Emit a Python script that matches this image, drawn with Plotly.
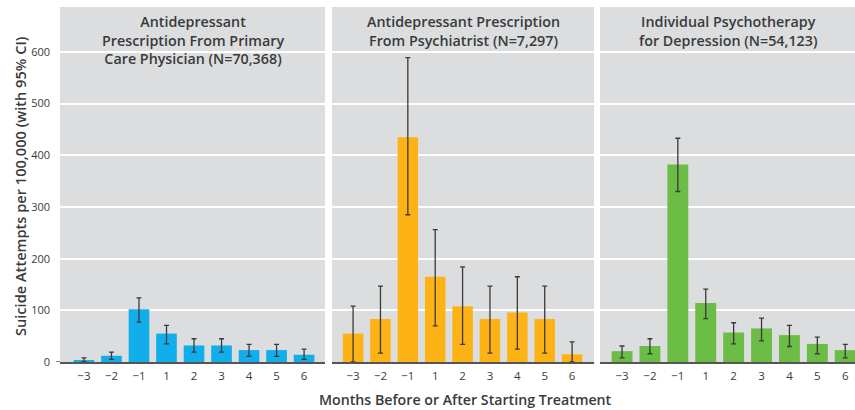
import plotly.graph_objects as go

months = ["\u22123", "\u22122", "\u22121", "1", "2", "3", "4", "5", "6"]

panel_titles = [
    "Antidepressant<br>Prescription From Primary<br>Care Physician (N=70,368)",
    "Antidepressant Prescription<br>From Psychiatrist (N=7,297)",
    "Individual Psychotherapy<br>for Depression (N=54,123)",
]

pcp_rate = [3, 12, 102, 55, 32, 32, 23, 23, 14]
pcp_low = [0.5, 5, 77, 35, 19, 19, 11, 11, 5]
pcp_high = [8, 19, 124, 71, 45, 45, 34, 34, 25]

psy_rate = [55, 83, 435, 165, 108, 83, 96, 83, 15]
psy_low = [0, 17, 285, 70, 34, 17, 25, 17, 0]
psy_high = [108, 147, 589, 256, 184, 147, 165, 147, 39]

thr_rate = [21, 31, 382, 114, 57, 65, 52, 35, 23]
thr_low = [8, 16, 330, 84, 35, 41, 30, 16, 8]
thr_high = [31, 45, 433, 141, 76, 85, 71, 48, 34]

y_ticks = [0, 100, 200, 300, 400, 500, 600]

series = [
    (pcp_rate, pcp_low, pcp_high, "#12ADEB"),
    (psy_rate, psy_low, psy_high, "#FDB316"),
    (thr_rate, thr_low, thr_high, "#6CBD45"),
]

FONT = "Open Sans"
TXT = "#3a3a3a"
W, H = 855, 410
L, R, T, B = 60, 0, 7, 48
pw = W - L - R
ph = H - T - B
domains = [
    [0, (325 - L) / pw],
    [(332 - L) / pw, (594 - L) / pw],
    [(600 - L) / pw, 1.0],
]
xranges = [[-0.87, 8.76], [-0.77, 8.8], [-0.79, 8.35]]
YMAX = 687

fig = go.Figure()
xs = list(range(len(months)))
for i, (rate, lo, hi, col) in enumerate(series):
    ax = "" if i == 0 else str(i + 1)
    fig.add_trace(go.Bar(
        x=xs, y=rate, marker=dict(color=col, line=dict(width=0)),
        width=0.75,
        error_y=dict(
            type="data", symmetric=False,
            array=[h - r for h, r in zip(hi, rate)],
            arrayminus=[r - l for r, l in zip(rate, lo)],
            color="#3a3a3a", thickness=1.3, width=2.5,
        ),
        xaxis="x" + ax, yaxis="y" + ax, showlegend=False,
        hoverinfo="skip",
    ))
    fig.update_layout(**{
        "xaxis" + ax: dict(
            domain=domains[i], range=xranges[i],
            tickmode="array", tickvals=xs, ticktext=months,
            showgrid=False, zeroline=False,
            showline=True, linecolor="#555555", linewidth=1.5,
            ticks="", tickfont=dict(family=FONT, size=11.5, color=TXT),
            anchor="y" + ax, fixedrange=True, ticklabelstandoff=2,
        ),
        "yaxis" + ax: dict(
            range=[0, YMAX], tickmode="array", tickvals=y_ticks,
            showgrid=True, gridcolor="#ffffff", gridwidth=2,
            zeroline=False, showticklabels=(i == 0),
            tickfont=dict(family=FONT, size=11, color=TXT),
            anchor="x" + ax, fixedrange=True,
            ticks="", ticklabelstandoff=9,
        ),
    })
    fig.add_annotation(
        text=panel_titles[i], xref="x" + ax + " domain", yref="paper",
        x=0.5, y=1.0, yshift=-3, xanchor="center", yanchor="top",
        showarrow=False, align="center",
        font=dict(family=FONT, size=14.3, color=TXT, weight=600),
    )

# y-axis title
fig.add_annotation(
    text="Suicide Attempts per 100,000 (with 95% CI)", textangle=-90,
    xref="paper", yref="paper", x=(20 - L) / pw, y=(H - B - 186) / ph,
    xanchor="center", yanchor="middle", showarrow=False,
    font=dict(family=FONT, size=14.6, color=TXT, weight=600),
)

# x-axis title
fig.add_annotation(
    text="Months Before or After Starting Treatment", xref="paper", yref="paper",
    x=(465 - L) / pw, y=0, yshift=-37, xanchor="center", yanchor="middle",
    showarrow=False,
    font=dict(family=FONT, size=14.2, color=TXT, weight=600),
)

# short tick mark at zero on the left axis
fig.add_shape(type="line", xref="paper", yref="y", x0=-4 / pw, x1=0, y0=0, y1=0,
              line=dict(color="#555555", width=1.5))

fig.update_layout(
    width=W, height=H, margin=dict(l=L, r=R, t=T, b=B),
    plot_bgcolor="#DCDDDF", paper_bgcolor="#ffffff",
    bargap=0.25,
)

fig.write_html("out.html", config={"displayModeBar": False},
               post_script="document.body.style.margin='0';document.body.style.padding='0';")
